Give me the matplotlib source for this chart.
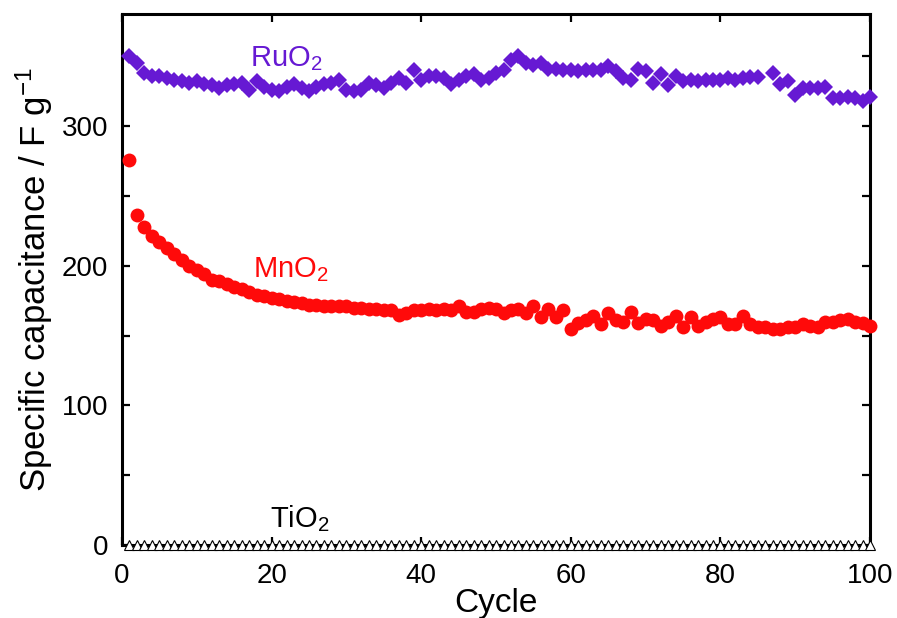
import numpy as np
import matplotlib.pyplot as plt

plt.rcParams['font.family'] = ['Liberation Sans', 'DejaVu Sans']
plt.rcParams['mathtext.fontset'] = 'custom'
plt.rcParams['mathtext.rm'] = 'Liberation Sans'
plt.rcParams['mathtext.default'] = 'regular'

cycles = np.arange(1, 101)

ruo2 = [350, 345, 338, 336, 336, 334, 333, 332, 331, 332,
        330, 329, 327, 329, 330, 331, 326, 332, 328, 326,
        325, 328, 330, 327, 325, 328, 330, 331, 333, 326,
        325, 326, 331, 329, 327, 331, 334, 331, 340, 333,
        336, 336, 334, 330, 333, 336, 337, 333, 334, 338,
        340, 347, 350, 345, 344, 345, 341, 341, 340, 340,
        339, 340, 340, 340, 343, 339, 334, 333, 341, 339,
        331, 337, 329, 336, 332, 333, 332, 333, 333, 333,
        334, 333, 334, 335, 335, np.nan, 338, 330, 332, 322,
        327, 327, 327, 328, 320, 320, 321, 320, 318, 321]

mno2 = [276, 236, 228, 221, 217, 213, 208, 204, 200, 197,
        194, 190, 189, 187, 185, 183, 181, 179, 178, 177,
        176, 175, 174, 173, 172, 172, 171, 171, 171, 171,
        170, 170, 169, 169, 168, 168, 165, 166, 168, 168,
        169, 168, 169, 168, 171, 167, 167, 169, 170, 169,
        166, 168, 169, 166, 171, 163, 169, 163, 168, 155,
        159, 161, 164, 158, 166, 161, 160, 167, 159, 162,
        161, 157, 160, 164, 156, 163, 157, 160, 162, 163,
        158, 158, 164, 158, 156, 156, 155, 155, 156, 156,
        158, 157, 156, 160, 160, 161, 162, 160, 159, 157]

tio2 = [0] * 100

purple = '#6619d3'
red = '#ff0a0a'

fig = plt.figure(figsize=(8.97, 6.18), dpi=100)
ax = fig.add_axes([0.136, 0.118, 0.834, 0.859])

ax.plot(cycles, ruo2, 'D', color=purple, ms=8, mew=0, clip_on=False, zorder=3)
ax.plot(cycles, mno2, 'o', color=red, ms=10, mew=0, clip_on=False, zorder=3)
ax.plot(cycles, tio2, '^', mfc='white', mec='black', mew=0.8, ms=7.5,
        clip_on=False, zorder=4)

ax.text(17.1, 342.5, 'RuO$_2$', color=purple, fontsize=21, va='baseline')
ax.text(17.5, 192, 'MnO$_2$', color=red, fontsize=21, va='baseline')
ax.text(19.8, 13, 'TiO$_2$', color='black', fontsize=21, va='baseline')

ax.set_xlim(0, 100)
ax.set_ylim(0, 380)
ax.set_xticks([0, 20, 40, 60, 80, 100])
ax.set_yticks([0, 100, 200, 300])
ax.set_yticks([50, 150, 250, 350], minor=True)

ax.tick_params(which='both', direction='in', top=True, right=True,
               length=6, width=1.6, labelsize=20)
ax.tick_params(axis='x', pad=13)
ax.tick_params(axis='y', pad=10)
for s in ax.spines.values():
    s.set_linewidth(2.2)

ax.set_xlabel('Cycle', fontsize=24, labelpad=-1)
ax.set_ylabel('Specific capacitance / F g$^{\u22121}$', fontsize=25, labelpad=5)

plt.savefig('out.png', dpi=100)
